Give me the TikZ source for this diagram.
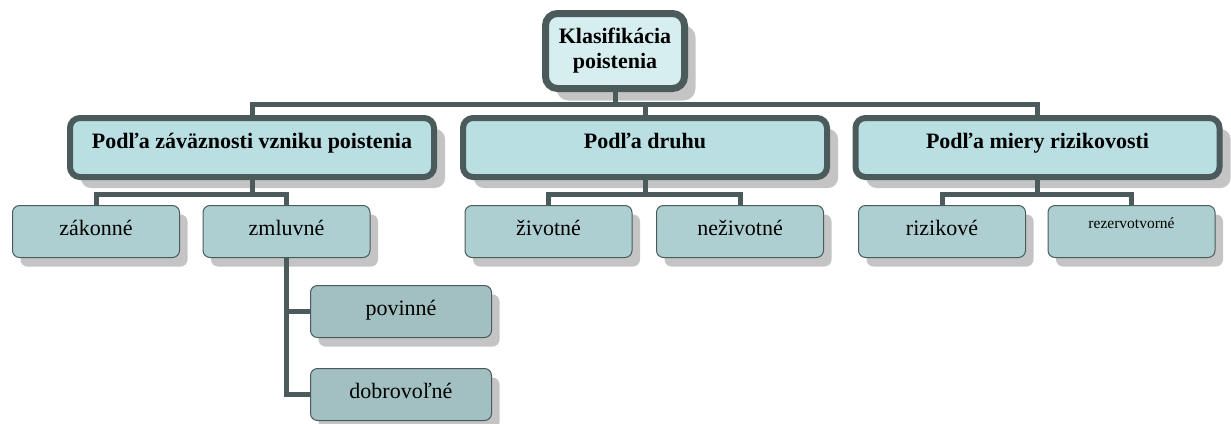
\documentclass[tikz,border=0pt]{standalone}
\usepackage{fontspec}
\setmainfont{Liberation Serif}
\usepackage{tikz}
\usetikzlibrary{calc,shadows}
\definecolor{linec}{HTML}{4B5B5B}
\definecolor{topfill}{HTML}{D6EEF0}
\definecolor{grpfill}{HTML}{B9DFE3}
\definecolor{leaffill}{HTML}{AECFD1}
\definecolor{subfill}{HTML}{A2BFC1}
\definecolor{shadowc}{HTML}{C4C4C4}

\begin{document}
\begin{tikzpicture}[x=1pt, y=-1pt,
  topbox/.style={rectangle, draw=linec, fill=topfill, line width=7pt, rounded corners=12pt,
    minimum width=139pt, minimum height=75pt, inner sep=0pt, align=center,
    font=\bfseries\fontsize{22}{25}\selectfont,
    drop shadow={shadow xshift=11pt, shadow yshift=-12pt, fill=shadowc, opacity=1}},
  groupbox/.style={rectangle, draw=linec, fill=grpfill, line width=6pt, rounded corners=10pt,
    minimum width=364pt, text height=30pt, text depth=29pt, inner sep=0pt,
    font=\bfseries\fontsize{22}{25}\selectfont,
    drop shadow={shadow xshift=11pt, shadow yshift=-11pt, fill=shadowc, opacity=1}},
  leafbox/.style={rectangle, draw=linec, fill=leaffill, line width=1pt, rounded corners=7pt,
    minimum width=167pt, text height=29.5pt, text depth=22.5pt, inner sep=0pt,
    font=\fontsize{22}{25}\selectfont,
    drop shadow={shadow xshift=8pt, shadow yshift=-9pt, fill=shadowc, opacity=1}},
  subbox/.style={leafbox, fill=subfill, minimum width=181pt},
  conn/.style={draw=linec, line width=5pt}]
  \useasboundingbox (0,0) rectangle (1231,423);

  % Nodes
  \node[topbox] (klas) at (615,51) {Klasifikácia\\poistenia};
  \foreach \n/\x/\t in {zavaz/252/Podľa záväznosti vzniku poistenia,
                        druh/645/Podľa druhu,
                        miera/1037.5/Podľa miery rizikovosti}{
    \node[groupbox, anchor=north] (\n) at (\x,115) {\t};
  };
  \foreach \n/\x/\t in {zakonne/96/zákonné, zmluvne/286.5/zmluvné, zivotne/548.5/životné,
                        nezivotne/740/neživotné, rizikove/942/rizikové}{
    \node[leafbox, anchor=north] (\n) at (\x,205) {\t};
  };
  \node[leafbox, anchor=north, font=\fontsize{15.5}{18}\selectfont,
        text height=23pt, text depth=29pt] (rezerv) at (1131.5,205) {rezervotvorné};
  \node[subbox, anchor=north] (povinne) at (401,285) {povinné};
  \node[subbox, anchor=north] (dobrovolne) at (401,368) {dobrovoľné};

  % Edges
  \coordinate (bus) at (0,104);
  \coordinate (subbus) at (0,194);
  \foreach \c in {zavaz,druh,miera}
    \draw[conn] (klas.south) -- (klas.south |- bus) -| (\c.north);
  \foreach \p/\c in {zavaz/zakonne, zavaz/zmluvne, druh/zivotne, druh/nezivotne,
                     miera/rizikove, miera/rezerv}
    \draw[conn] (\p.south) -- (\p.south |- subbus) -| (\c.north);
  \foreach \c in {povinne,dobrovolne}
    \draw[conn] (zmluvne.south) |- (\c.west);

\end{tikzpicture}
\end{document}
